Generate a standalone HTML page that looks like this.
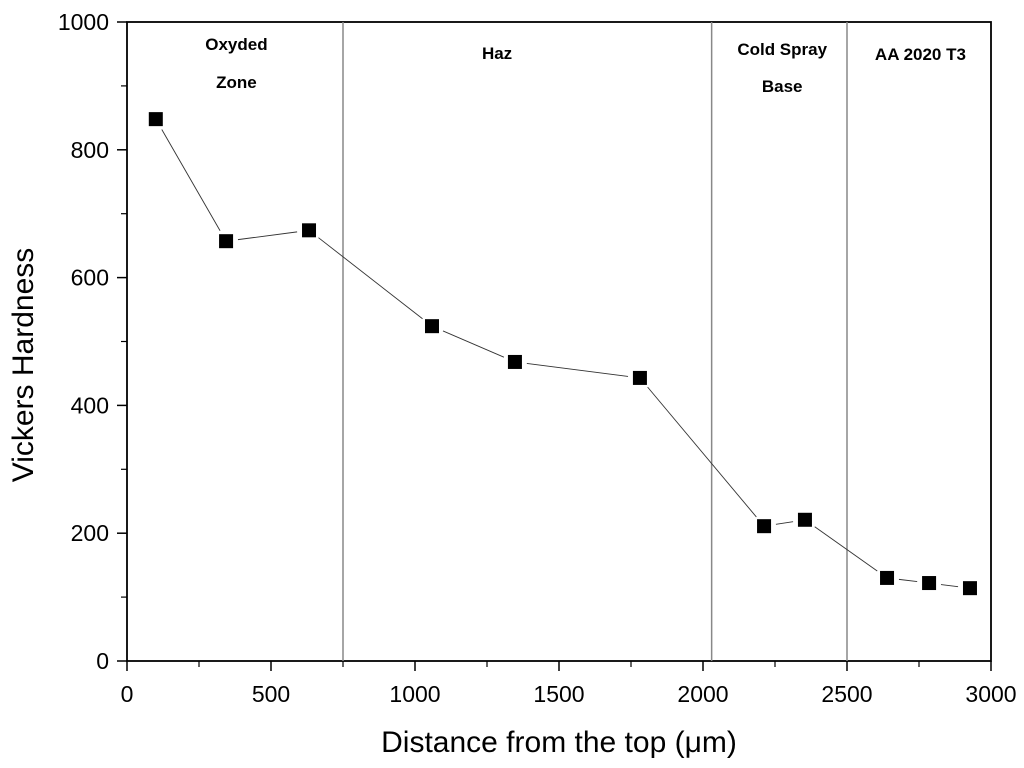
<!DOCTYPE html>
<html><head><meta charset="utf-8"><style>
body{margin:0;background:#fff;}
svg{display:block;font-family:"Liberation Sans",Arial,sans-serif;}
</style></head><body>
<svg id="chart" width="1024" height="768">
<g id="plot"></g>
</svg>
<script>
const xValues=[100,344,632,1059,1347,1781,2212,2354,2639,2785,2927];
const yValues=[848,657,674,524,468,443,211,221,130,122,114];
const xTicks=[0,500,1000,1500,2000,2500,3000];
const yTicks=[0,200,400,600,800,1000];
const zoneBounds=[750,2030,2500];
const zoneLabels=[["Oxyded","Zone"],["Haz"],["Cold Spray","Base"],["AA 2020 T3"]];
const zoneCenters=[380,1285,2275,2755];
const L=127,R=991,T=22,B=661;
const sx=v=>L+(v/3000)*(R-L);
const sy=v=>B-(v/1000)*(B-T);
const ns="http://www.w3.org/2000/svg";
const g=document.getElementById('plot');
function mk(tag,attrs){const e=document.createElementNS(ns,tag);for(const k in attrs)e.setAttribute(k,attrs[k]);g.appendChild(e);return e;}
let fr=mk('rect',{x:L,y:T,width:R-L,height:B-T,fill:'none',stroke:'#000','stroke-width':1.8});


zoneBounds.forEach(b=>{
 const l=mk('line',{x1:sx(b),x2:sx(b),y1:T,y2:B,stroke:'#888','stroke-width':1.5});
 
 
});
const labelY=[[50,88],[59],[55,92],[60]];
zoneLabels.forEach((lines,i)=>{
 const cx=sx(zoneCenters[i]);
 lines.forEach((s,j)=>{
  const t=mk('text',{x:cx,y:labelY[i][j],'text-anchor':'middle','font-size':17,'font-weight':'bold'});
  t.textContent=s;
  
  
 });
});
xTicks.forEach(v=>{
 const l=mk('line',{x1:sx(v),x2:sx(v),y1:B,y2:B+10,stroke:'#000','stroke-width':1.5});
 
 
 const t=mk('text',{x:sx(v),y:702,'text-anchor':'middle','font-size':23});
 t.textContent=v;
 
 
});
for(let v=250;v<3000;v+=500){const l=mk('line',{x1:sx(v),x2:sx(v),y1:B,y2:B+6,stroke:'#000','stroke-width':1.2});
 
 }
yTicks.forEach(v=>{
 const l=mk('line',{x1:L-10,x2:L,y1:sy(v),y2:sy(v),stroke:'#000','stroke-width':1.5});
 
 
 const t=mk('text',{x:109,y:sy(v)+8,'text-anchor':'end','font-size':23});
 t.textContent=v;
 
 
});
for(let v=100;v<1000;v+=200){const l=mk('line',{x1:L-6,x2:L,y1:sy(v),y2:sy(v),stroke:'#000','stroke-width':1.2});
 
 }
for(let i=0;i<xValues.length-1;i++){
 const x1=sx(xValues[i]),y1=sy(yValues[i]),x2=sx(xValues[i+1]),y2=sy(yValues[i+1]);
 const d=Math.hypot(x2-x1,y2-y1),g0=12;if(d<=2*g0)continue;
 const ux=(x2-x1)/d,uy=(y2-y1)/d;
 const l=mk('line',{x1:x1+ux*g0,y1:y1+uy*g0,x2:x2-ux*g0,y2:y2-uy*g0,stroke:'#333','stroke-width':0.9});
 
 
}
xValues.forEach((v,i)=>{
 const r=mk('rect',{x:sx(v)-7,y:sy(yValues[i])-7,width:14,height:14,fill:'#000'});
 
 
});
let xt=mk('text',{x:559,y:752,'text-anchor':'middle','font-size':30});
xt.textContent='Distance from the top (\u03bcm)';


let yt=mk('text',{x:0,y:0,'text-anchor':'middle','font-size':30,transform:'translate(33,365) rotate(-90)'});
yt.textContent='Vickers Hardness';


</script>
</body></html>
